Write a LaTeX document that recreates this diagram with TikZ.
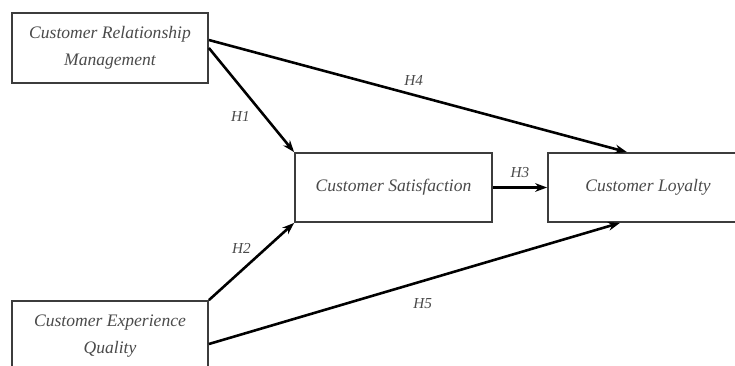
\documentclass[tikz,border=0pt]{standalone}
\usepackage{fontspec}
\setmainfont{Liberation Serif}
\usepackage{xcolor}
\usepackage{tikz}
\usetikzlibrary{arrows.meta,positioning,calc}
\definecolor{textgray}{HTML}{4A4A4A}
\definecolor{linegray}{HTML}{3C3C3C}
\tikzset{
  construct/.style={draw=linegray, line width=1.5pt, align=center, text=textgray, font=\fontsize{15}{23}\selectfont\itshape, minimum width=5.88cm, minimum height=2.1cm, inner sep=2pt},
  path/.style={-{Stealth[length=3.6mm, width=2.6mm]}, line width=2.2pt, draw=black},
  hyp/.style={text=textgray, font=\fontsize{13}{15}\selectfont\itshape, inner sep=1pt}
}

\begin{document}
\begin{tikzpicture}[x=0.03cm, y=-0.03cm]
  \useasboundingbox (0,0) rectangle (735,365);
  \node[construct] (crm) at (110,48) {Customer Relationship\\Management};
  \node[construct] (ceq) at (110,336) {Customer Experience\\Quality};
  \node[construct, minimum width=5.91cm, minimum height=2.07cm] (cs) at (393.5,187.5) {Customer Satisfaction};
  \node[construct, minimum width=6cm, minimum height=2.07cm] (cl) at (648,187.5) {Customer Loyalty};

  \draw[path] (crm.east) -- node[hyp, pos=0.66, left=11pt] {H1} (cs.north west);
  \draw[path] (ceq.north east) -- node[hyp, pos=0.67, left=11pt] {H2} (cs.south west);
  \draw[path] (cs.east) -- node[hyp, above=6pt] {H3} (cl.west);
  \draw[path] ($(crm.east)+(0,-8)$) -- node[hyp, pos=0.49, above=6pt] {H4} ($(cl.north)+(-21,0)$);
  \draw[path] ($(ceq.east)+(0,8)$) -- node[hyp, pos=0.52, below=13pt] {H5} ($(cl.south)+(-28,0)$);
\end{tikzpicture}
\end{document}
